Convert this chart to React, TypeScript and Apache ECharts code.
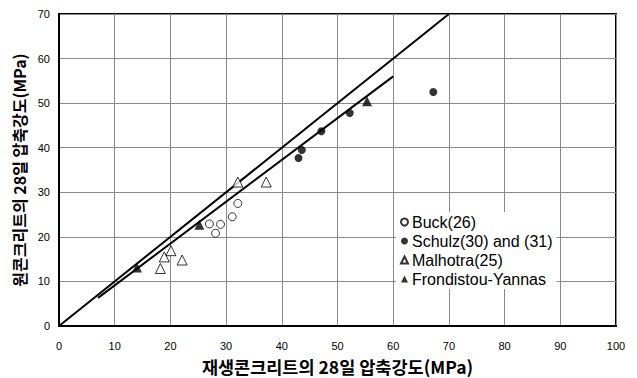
import React, { useEffect, useRef } from "react";
import * as echarts from "echarts";

const xTicks = [0, 10, 20, 30, 40, 50, 60, 70, 80, 90, 100];
const yTicks = [0, 10, 20, 30, 40, 50, 60, 70];

const buck: [number, number][] = [
  [27.0, 22.9],
  [29.0, 22.8],
  [28.1, 20.8],
  [31.1, 24.5],
  [32.1, 27.5],
];
const schulz: [number, number][] = [
  [43.6, 39.5],
  [43.0, 37.7],
  [47.1, 43.7],
  [52.2, 47.8],
  [67.2, 52.5],
];
const malhotra: [number, number][] = [
  [18.2, 12.9],
  [18.9, 15.5],
  [20.1, 16.9],
  [22.1, 14.8],
  [32.1, 32.3],
  [37.2, 32.3],
];
const frondistou: [number, number][] = [
  [14.0, 13.1],
  [25.2, 22.7],
  [55.3, 50.4],
];
const lineEqual: [number, number][] = [
  [0, 0],
  [70, 70],
];
const lineFit: [number, number][] = [
  [7, 6.3],
  [60, 56],
];

const seriesNames = ["Buck(26)", "Schulz(30) and (31)", "Malhotra(25)", "Frondistou-Yannas"];

export default function App() {
  const ref = useRef<HTMLDivElement>(null);
  useEffect(() => {
    if (!ref.current) return;
    const chart = echarts.init(ref.current, null, { renderer: "svg" });
    const font = "'Liberation Sans', Arial, sans-serif";
    const kfont = "'Noto Sans CJK KR', sans-serif";
    const split = { show: true, lineStyle: { color: "#8a8a8a", width: 1, type: "solid" } };
    chart.setOption({
      animation: false,
      backgroundColor: "#ffffff",
      grid: {
        left: 59,
        right: 21,
        top: 14,
        bottom: 52,
        show: true,
        borderColor: "#000",
        borderWidth: 2,
        containLabel: false,
        outerBoundsMode: "none",
      },
      xAxis: {
        type: "value",
        min: xTicks[0],
        max: xTicks[xTicks.length - 1],
        interval: 10,
        name: "재생콘크리트의 28일 압축강도(MPa)",
        nameLocation: "middle",
        nameGap: 32,
        nameTextStyle: { color: "#000", fontSize: 17.5, fontWeight: "bold", fontFamily: kfont },
        axisLine: { show: true, lineStyle: { color: "#000", width: 2 } },
        axisTick: { show: false },
        axisLabel: { color: "#000", fontSize: 11, margin: 14, fontFamily: font },
        splitLine: split,
      },
      yAxis: {
        type: "value",
        min: yTicks[0],
        max: yTicks[yTicks.length - 1],
        interval: 10,
        name: "원콘크리트의 28일 압축강도(MPa)",
        nameLocation: "middle",
        nameRotate: 90,
        nameGap: 24,
        nameTextStyle: { color: "#000", fontSize: 16, fontWeight: "bold", fontFamily: kfont },
        axisLine: { show: true, lineStyle: { color: "#000", width: 2 } },
        axisTick: { show: false },
        axisLabel: { color: "#000", fontSize: 11, margin: 9, fontFamily: font },
        splitLine: split,
      },
      legend: {
        data: seriesNames,
        orient: "vertical",
        left: 396,
        top: 212,
        padding: [2, 4, 2, 4],
        backgroundColor: "#fff",
        itemWidth: 7,
        itemHeight: 7,
        itemGap: 3,
        z: 10,
        textStyle: { color: "#000", fontSize: 16, fontFamily: font, padding: [0, 0, 0, -1], lineHeight: 16 },
      },
      series: [
        {
          name: "line1",
          type: "line",
          data: lineEqual,
          showSymbol: false,
          lineStyle: { color: "#000", width: 2 },
          z: 3,
        },
        {
          name: "line2",
          type: "line",
          data: lineFit,
          showSymbol: false,
          lineStyle: { color: "#000", width: 2 },
          z: 3,
        },
        {
          name: seriesNames[0],
          type: "scatter",
          data: buck,
          symbol: "circle",
          symbolSize: 8,
          itemStyle: { color: "#fff", borderColor: "#000", borderWidth: 1 },
          z: 4,
        },
        {
          name: seriesNames[1],
          type: "scatter",
          data: schulz,
          symbol: "circle",
          symbolSize: 8,
          itemStyle: { color: "#000" },
          z: 4,
        },
        {
          name: seriesNames[2],
          type: "scatter",
          data: malhotra,
          symbol: "triangle",
          symbolSize: 10,
          itemStyle: { color: "#fff", borderColor: "#000", borderWidth: 1 },
          z: 4,
        },
        {
          name: seriesNames[3],
          type: "scatter",
          data: frondistou,
          symbol: "triangle",
          symbolSize: 10,
          itemStyle: { color: "#000" },
          z: 4,
        },
      ],
    });
    return () => chart.dispose();
  }, []);
  return (
    <div
      ref={ref}
      style={{ position: "fixed", left: 0, top: 0, width: 637, height: 378, background: "#fff" }}
    />
  );
}
